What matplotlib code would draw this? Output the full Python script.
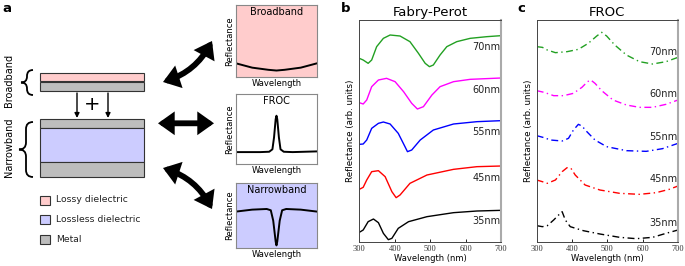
import matplotlib.pyplot as plt
import matplotlib.patches as mpatches
from matplotlib.path import Path

# ---- data (arb. units with offsets) ----
thick = ['70nm', '60nm', '55nm', '45nm', '35nm']
colors = ['#22a022', 'magenta', 'blue', 'red', 'black']

# b: Fabry-Perot
fp_wl = [
    [300, 311, 325, 335, 349, 368, 387, 415, 443, 467, 486, 498, 509, 528, 547, 575, 613, 660, 700],
    [300, 311, 321, 335, 354, 377, 401, 425, 448, 464, 481, 505, 528, 566, 613, 700],
    [300, 311, 321, 335, 354, 368, 387, 410, 429, 436, 448, 472, 509, 566, 632, 700],
    [300, 311, 321, 335, 354, 373, 392, 404, 415, 443, 491, 566, 632, 700],
    [300, 311, 325, 340, 354, 368, 382, 392, 410, 439, 491, 566, 632, 700],
]
fp_refl = [
    [5.51, 5.46, 5.36, 5.46, 5.86, 6.11, 6.21, 6.18, 6.01, 5.66, 5.36, 5.26, 5.31, 5.61, 5.86, 6.01, 6.11, 6.16, 6.19],
    [4.18, 4.14, 4.26, 4.66, 4.86, 4.91, 4.81, 4.51, 4.16, 3.99, 4.06, 4.41, 4.66, 4.81, 4.88, 4.92],
    [2.93, 2.94, 3.06, 3.41, 3.56, 3.60, 3.54, 3.26, 2.86, 2.71, 2.76, 3.06, 3.36, 3.54, 3.61, 3.64],
    [1.58, 1.64, 1.86, 2.11, 2.14, 1.96, 1.51, 1.33, 1.41, 1.76, 2.01, 2.18, 2.26, 2.28],
    [0.29, 0.36, 0.61, 0.69, 0.58, 0.26, 0.07, 0.11, 0.41, 0.61, 0.76, 0.88, 0.93, 0.95],
]
fp_label_y = [5.84, 4.56, 3.29, 1.93, 0.63]

# c: FROC
froc_wl = [
    [300, 316, 330, 353, 386, 418, 446, 470, 484, 498, 521, 554, 591, 628, 666, 700],
    [300, 321, 348, 376, 404, 428, 444, 453, 465, 484, 516, 554, 591, 628, 666, 700],
    [300, 321, 339, 372, 390, 404, 418, 428, 442, 465, 498, 554, 610, 656, 700],
    [300, 316, 330, 353, 372, 386, 397, 409, 437, 479, 535, 591, 638, 675, 700],
    [300, 316, 330, 348, 362, 372, 381, 395, 432, 479, 535, 582, 628, 666, 700],
]
froc_refl = [
    [5.86, 5.84, 5.76, 5.68, 5.71, 5.78, 5.96, 6.18, 6.29, 6.18, 5.91, 5.61, 5.41, 5.34, 5.41, 5.54],
    [4.54, 4.49, 4.39, 4.39, 4.46, 4.64, 4.81, 4.86, 4.76, 4.54, 4.26, 4.11, 4.04, 4.04, 4.13, 4.26],
    [3.19, 3.13, 3.06, 3.03, 3.11, 3.36, 3.53, 3.48, 3.31, 3.06, 2.86, 2.74, 2.72, 2.80, 2.96],
    [1.86, 1.81, 1.76, 1.86, 2.11, 2.23, 2.21, 2.01, 1.71, 1.56, 1.46, 1.43, 1.48, 1.58, 1.68],
    [0.49, 0.46, 0.49, 0.66, 0.81, 0.91, 0.66, 0.46, 0.34, 0.24, 0.14, 0.10, 0.14, 0.26, 0.36],
]
froc_label_y = [5.71, 4.44, 3.16, 1.88, 0.58]

wl_ticks = [300, 400, 500, 600, 700]

# a: sketch spectra (normalised axes)
broad_x = [0, 0.2, 0.4, 0.5, 0.6, 0.8, 1]
broad_y = [0.19, 0.13, 0.10, 0.09, 0.10, 0.13, 0.19]
froc_x = [0, 0.3, 0.41, 0.45, 0.47, 0.49, 0.5, 0.51, 0.53, 0.55, 0.59, 0.7, 1]
froc_y = [0.17, 0.17, 0.175, 0.21, 0.38, 0.64, 0.69, 0.64, 0.38, 0.21, 0.175, 0.17, 0.18]
narrow_x = [0, 0.2, 0.38, 0.43, 0.46, 0.49, 0.5, 0.51, 0.54, 0.57, 0.62, 0.8, 1]
narrow_y = [0.56, 0.59, 0.6, 0.58, 0.42, 0.1, 0.04, 0.1, 0.42, 0.58, 0.6, 0.59, 0.56]

pink = '#ffcccc'
lavender = '#ccccff'
metal = '#bdbdbd'

fig = plt.figure(figsize=(6.85, 2.66), dpi=100)

# ---- panel a drawing layer (pixel coords) ----
ax0 = fig.add_axes([0, 0, 1, 1])
ax0.set_xlim(0, 685)
ax0.set_ylim(266, 0)
ax0.axis('off')

def rect(x0, y0, x1, y1, fc):
    ax0.add_patch(mpatches.Rectangle((x0, y0), x1 - x0, y1 - y0, fc=fc, ec='#333333', lw=0.8))

rect(40, 72.7, 144, 81.5, pink)
rect(40, 81.5, 144, 90.5, metal)
rect(40, 119.3, 144, 128.3, metal)
rect(40, 128.3, 144, 162.3, lavender)
rect(40, 162.3, 144, 176.7, metal)

for xa in [77, 108]:
    ax0.annotate('', xy=(xa, 118), xytext=(xa, 93),
                 arrowprops=dict(arrowstyle='-|>', color='black', lw=1, mutation_scale=7,
                                 shrinkA=0, shrinkB=0))
ax0.text(92.5, 105, '+', fontsize=14, ha='center', va='center')

def brace(x_tip, x_end, y_top, y_bot):
    xm = (x_tip + x_end) / 2
    ym = (y_top + y_bot) / 2
    r = (x_end - x_tip) / 2
    verts = [(x_end, y_top), (xm, y_top), (xm, y_top + r),
             (xm, ym - r), (xm, ym), (x_tip, ym),
             (xm, ym), (xm, ym + r),
             (xm, y_bot - r), (xm, y_bot), (x_end, y_bot)]
    codes = [Path.MOVETO, Path.CURVE3, Path.CURVE3,
             Path.LINETO, Path.CURVE3, Path.CURVE3,
             Path.CURVE3, Path.CURVE3,
             Path.LINETO, Path.CURVE3, Path.CURVE3]
    ax0.add_patch(mpatches.PathPatch(Path(verts, codes), fc='none', ec='black', lw=1.3))

brace(21, 33, 70, 95)
brace(19, 33, 122, 177)
ax0.text(9.5, 80, 'Broadband', rotation=90, fontsize=7, ha='center', va='center')
ax0.text(9.5, 147, 'Narrowband', rotation=90, fontsize=7, ha='center', va='center')

legend_items = ['Lossy dielectric', 'Lossless dielectric', 'Metal']
legend_colors = [pink, lavender, metal]
for i, (lab, c) in enumerate(zip(legend_items, legend_colors)):
    yc = 200 + i * 19.5
    rect(40, yc - 4.5, 50, yc + 4.5, c)
    ax0.text(56, yc, lab, fontsize=6.7, ha='left', va='center', color='#222222')

arrow_kw = dict(arrowstyle='<|-|>,head_length=0.45,head_width=0.32', color='black',
                lw=4.2, mutation_scale=14, shrinkA=0, shrinkB=0, joinstyle='miter')
ax0.add_patch(mpatches.FancyArrowPatch((163, 82), (212, 41), connectionstyle='arc3,rad=0.2', **arrow_kw))
ax0.add_patch(mpatches.FancyArrowPatch((158, 123.3), (214, 123.3), **arrow_kw))
ax0.add_patch(mpatches.FancyArrowPatch((163, 168), (212, 209), connectionstyle='arc3,rad=-0.2', **arrow_kw))

for lab, xp in [('a', 2), ('b', 341), ('c', 517)]:
    ax0.text(xp, 8.5, lab, fontsize=9.5, fontweight='bold', ha='left', va='center')

# ---- panel a sketch spectra ----
sketches = [
    ([0.3445, 0.7105, 0.1182, 0.2707], pink, 'Broadband', broad_x, broad_y),
    ([0.3445, 0.3835, 0.1182, 0.2630], 'white', 'FROC', froc_x, froc_y),
    ([0.3445, 0.0677, 0.1182, 0.2444], lavender, 'Narrowband', narrow_x, narrow_y),
]
for pos, fc, title, sx, sy in sketches:
    ax = fig.add_axes(pos)
    ax.set_facecolor(fc)
    ax.plot(sx, sy, color='black', lw=1.4)
    ax.set_xlim(0, 1)
    ax.set_ylim(0, 1)
    ax.set_xticks([])
    ax.set_yticks([])
    for s in ax.spines.values():
        s.set_color('#888888')
        s.set_linewidth(0.8)
    ax.text(0.5, 0.97, title, transform=ax.transAxes, fontsize=7, ha='center', va='top')
    ax.set_xlabel('Wavelength', fontsize=6, labelpad=1.5)
    ax.set_ylabel('Reflectance', fontsize=6, labelpad=1.5)

# ---- panels b and c ----
def spectra_panel(pos, title, wls, refls, label_y, ls):
    ax = fig.add_axes(pos)
    for wl, r, c in zip(wls, refls, colors):
        ax.plot(wl, r, color=c, lw=1.0, linestyle=ls)
    for lab, yl in zip(thick, label_y):
        ax.text(698, yl, lab, fontsize=7, ha='right', va='center', color='#222222')
    ax.set_xlim(300, 700)
    ax.set_ylim(0, 6.66)
    ax.set_yticks([])
    ax.set_xticks(wl_ticks)
    ax.set_xticklabels([str(t) for t in wl_ticks], fontsize=6, family='Liberation Serif', color='#333333')
    ax.tick_params(axis='x', direction='in', length=2, width=0.6, pad=2)
    for side in ['left', 'top', 'bottom']:
        ax.spines[side].set_color('#444444')
        ax.spines[side].set_linewidth(0.7)
    ax.spines['right'].set_color('#aaaaaa')
    ax.spines['right'].set_linewidth(1.5)
    ax.set_title(title, fontsize=9.5, pad=3)
    ax.set_xlabel('Wavelength (nm)', fontsize=6, labelpad=1)
    ax.set_ylabel('Reflectance (arb. units)', fontsize=6.3, labelpad=3)
    return ax

spectra_panel([0.5245, 0.0902, 0.2069, 0.8346], 'Fabry-Perot', fp_wl, fp_refl, fp_label_y, '-')
spectra_panel([0.7835, 0.0902, 0.2063, 0.8346], 'FROC', froc_wl, froc_refl, froc_label_y,
              (0, (5, 2.5, 1, 2.5)))

fig.savefig('out.png', dpi=100)
